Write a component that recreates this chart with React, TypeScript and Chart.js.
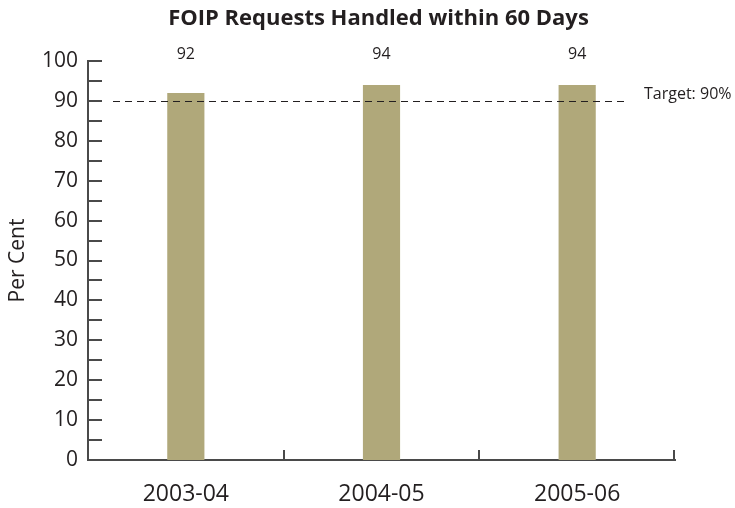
import React, { useEffect, useRef } from "react";
import { Chart, registerables } from "chart.js";

Chart.register(...registerables);

const title = "FOIP Requests Handled within 60 Days";
const categories = ["2003-04", "2004-05", "2005-06"];
const values = [92, 94, 94];
const target = 90;
const targetLabel = "Target: 90%";
const yTitle = "Per Cent";
const yMin = 0;
const yMax = 100;
const yStep = 5;

const FONT = "'Open Sans', 'DejaVu Sans', sans-serif";
const INK = "#231f20";
const AXIS = "#4a4a4a";
const BAR = "#b0a87a";

const overlay = {
  id: "overlay",
  afterDraw(chart: any) {
    const ctx = chart.ctx;
    const xs = chart.scales.x;
    const ys = chart.scales.y;
    const area = chart.chartArea;
    ctx.save();

    // title
    ctx.fillStyle = INK;
    ctx.font = `bold 22px ${FONT}`;
    ctx.textAlign = "center";
    ctx.textBaseline = "middle";
    ctx.fillText(title, (area.left + area.right) / 2 - 3, area.top - 42);

    // y ticks inside the axis
    ctx.strokeStyle = AXIS;
    ctx.lineWidth = 2;
    ys.ticks.forEach((t: any) => {
      const y = Math.round(ys.getPixelForValue(t.value));
      ctx.beginPath();
      ctx.moveTo(area.left, y);
      ctx.lineTo(area.left + 14, y);
      ctx.stroke();
    });

    // x category boundary ticks
    const n = categories.length;
    const bounds: number[] = [xs.left];
    for (let i = 0; i < n - 1; i++) {
      bounds.push((xs.getPixelForValue(i) + xs.getPixelForValue(i + 1)) / 2);
    }
    bounds.push(xs.right - 1);
    bounds.forEach((bx) => {
      const x = Math.round(bx);
      ctx.beginPath();
      ctx.moveTo(x, area.bottom);
      ctx.lineTo(x, area.bottom - 10);
      ctx.stroke();
    });

    // target dashed line
    const ty = Math.round(ys.getPixelForValue(target)) + 0.5;
    const lineEnd = area.right - 47;
    ctx.strokeStyle = INK;
    ctx.lineWidth = 1;
    ctx.setLineDash([7, 5]);
    ctx.beginPath();
    ctx.moveTo(area.left + 25, ty);
    ctx.lineTo(lineEnd, ty);
    ctx.stroke();
    ctx.setLineDash([]);

    ctx.font = `16px ${FONT}`;
    ctx.textAlign = "left";
    ctx.textBaseline = "middle";
    ctx.fillStyle = INK;
    ctx.fillText(targetLabel, lineEnd + 16, ty - 7);

    // value labels above plot
    ctx.textAlign = "center";
    const labelY = ys.getPixelForValue(yMax) - 7;
    values.forEach((v, i) => {
      ctx.fillText(String(v), xs.getPixelForValue(i), labelY);
    });

    ctx.restore();
  },
};

export default function App() {
  const ref = useRef<HTMLCanvasElement | null>(null);

  useEffect(() => {
    document.body.style.margin = "0";
    const canvas = ref.current;
    if (!canvas) return;
    const chart = new Chart(canvas, {
      type: "bar",
      data: {
        labels: categories,
        datasets: [
          {
            data: values,
            backgroundColor: BAR,
            borderWidth: 0,
            categoryPercentage: 1,
            barPercentage: 0.19,
          },
        ],
      },
      options: {
        responsive: false,
        animation: false,
        layout: { padding: { top: 61, right: 60, left: 0, bottom: 0 } },
        plugins: {
          legend: { display: false },
          title: { display: false },
          tooltip: { enabled: false },
        },
        scales: {
          x: {
            type: "category",
            grid: { display: false, drawTicks: false },
            border: { display: true, color: AXIS, width: 2 },
            ticks: {
              font: { family: FONT, size: 23 },
              color: INK,
              padding: 21,
            },
            afterFit: (s: any) => {
              s.height = 48;
            },
          },
          y: {
            min: yMin,
            max: yMax,
            grid: { display: false, drawTicks: false },
            border: { display: true, color: AXIS, width: 2 },
            ticks: {
              stepSize: yStep,
              autoSkip: false,
              font: { family: FONT, size: 21 },
              color: INK,
              padding: 10,
              callback: (v: any) => (Number(v) % 10 === 0 ? String(v) : ""),
            },
            title: {
              display: true,
              text: yTitle,
              font: { family: FONT, size: 21 },
              color: INK,
              padding: { top: 5, bottom: 4 },
            },
            afterFit: (s: any) => {
              s.width = 88;
            },
          },
        },
      },
      plugins: [overlay],
    });
    return () => chart.destroy();
  }, []);

  return (
    <div style={{ width: 735, height: 508 }}>
      <canvas ref={ref} width={735} height={508} />
    </div>
  );
}
